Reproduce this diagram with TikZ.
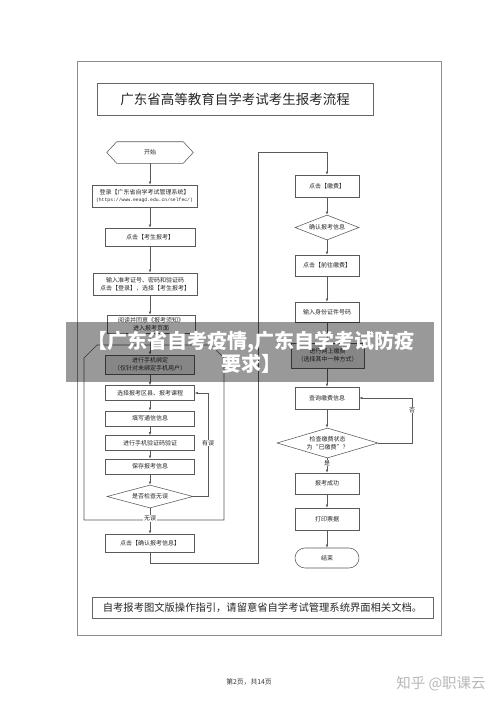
\documentclass[tikz,border=0pt]{standalone}
\usepackage{fontspec}
\setmainfont{Noto Sans CJK SC}
\newfontfamily\monofont{Liberation Mono}
\usetikzlibrary{arrows.meta,shapes.geometric}
\begin{document}
\begin{tikzpicture}[x=1pt,y=-1pt,
  line/.style={draw=black!65, line width=0.55pt},
  arr/.style={line, -{Latex[length=3.2pt,width=2.6pt]}},
  box/.style={draw=black!65, line width=0.55pt, rectangle, inner sep=0pt, align=center, text=black!85, font=\fontsize{6}{8}\selectfont},
  dia/.style={box, diamond},
  lbl/.style={fill=white, inner sep=0.6pt, text=black!85, font=\fontsize{6}{7}\selectfont},
  shaded/.style={fill=black!12}
]
\useasboundingbox (0,0) rectangle (500,706);
\fill[white] (0,0) rectangle (500,706);
% page frame
\draw[black!45, line width=0.6pt] (77,61) rectangle (441,635);
% title
\node[draw=black!60, line width=0.6pt, minimum width=276, minimum height=32, inner sep=0pt, text=black!85, font=\fontsize{13.5}{15}\selectfont] (title) at (235,99) {广东省高等教育自学考试考生报考流程};
% enclosing group shape
\draw[line] (84,358) -- (97,345) -- (211,345) -- (224,358) -- (224,520) -- (84,520) -- cycle;
% left column
\node[box, draw=none, minimum width=86, minimum height=21] (start) at (150,152.5) {开始};
\draw[line] ([xshift=10pt]start.north west) -- ([xshift=-10pt]start.north east) -- (start.east) -- ([xshift=-10pt]start.south east) -- ([xshift=10pt]start.south west) -- (start.west) -- cycle;
\node[box, minimum width=105, minimum height=22] (login) at (144.5,196) {登录【广东省自学考试管理系统】\\[-0.5pt]{\monofont\fontsize{4.75}{6}\selectfont (https://www.eeagd.edu.cn/selfec/)}};
\node[box, minimum width=90, minimum height=18] (click1) at (150,237) {点击【考生报考】};
\node[box, minimum width=104, minimum height=22] (input) at (145,284) {输入准考证号、密码和验证码\\点击【登录】，选择【考生报考】};
\node[box, minimum width=88, minimum height=18] (read) at (151,324) {阅读并同意《报考须知》\\进入报考页面};
\node[box, shaded, minimum width=89, minimum height=19] (bind) at (150,364.5) {进行手机绑定\\（仅针对未绑定手机用户）};
\node[box, minimum width=89, minimum height=15] (select) at (150,393) {选择报考区县、报考课程};
\node[box, minimum width=89, minimum height=15] (fill) at (150,418.5) {填写通信信息};
\node[box, minimum width=89, minimum height=15] (verify) at (150,443) {进行手机验证码验证};
\node[box, minimum width=89, minimum height=15] (save) at (150,466.5) {保存报考信息};
\node[dia, aspect=3.7, minimum width=86, minimum height=23] (check1) at (150,496.5) {是否检查无误};
\node[box, minimum width=89, minimum height=18] (confirm) at (150,543) {点击【确认报考信息】};
% right column
\node[box, minimum width=64, minimum height=22] (pay) at (327,186) {点击【缴费】};
\node[dia, aspect=2.56, minimum width=64, minimum height=25] (check2) at (327,227.5) {确认报考信息};
\node[box, minimum width=64, minimum height=21] (goto) at (327,265.5) {点击【前往缴费】};
\node[box, minimum width=64, minimum height=20] (idnum) at (327,312) {输入身份证件号码};
\node[box, shaded, minimum width=73, minimum height=25] (online) at (327.5,355.5) {进行网上缴费\\（选择其中一种方式）};
\node[box, minimum width=64, minimum height=22] (query) at (327,398) {查询缴费信息};
\node[dia, aspect=3.4, minimum width=101, minimum height=30] (check3) at (327.5,443) {检查缴费状态\\为“已缴费”？};
\node[box, minimum width=64, minimum height=21] (success) at (327,483.5) {报考成功};
\node[box, minimum width=64, minimum height=22] (print) at (327,519) {打印票据};
\node[box, rounded corners=10pt, minimum width=64, minimum height=20] (end) at (327,558) {结束};
% left connectors
\draw[arr] (start) -- (start |- login.north);
\draw[arr] (login.south -| start) -- (click1.north);
\draw[arr] (click1) -- (click1 |- input.north);
\draw[arr] (input.south -| click1) -- (click1 |- read.north);
\draw[arr] (read.south -| click1) -- (bind.north);
\draw[arr] (bind) -- (select);
\draw[arr] (select) -- (fill);
\draw[arr] (fill) -- (verify);
\draw[arr] (verify) -- (save);
\draw[arr] (save) -- (check1);
\draw[arr] (check1.east) -- (208,496.5) -- (208,393) -- (select.east);
\node[lbl] (err) at (208,443) {有误};
\draw[arr] (check1) -- (confirm);
\node[lbl] (ok) at (150,518.5) {无误};
\draw[arr] (confirm.south) -- (150,563) -| (258,152) -| (pay.north);
% right connectors
\draw[arr] (pay) -- (check2);
\draw[arr] (check2) -- (goto);
\draw[arr] (goto) -- (idnum);
\draw[arr] (idnum) -- (idnum |- online.north);
\draw[arr] (online.south -| query) -- (query.north);
\draw[arr] (query) -- (query |- check3.north);
\draw[arr] (check3.south -| success) -- (success.north);
\draw[arr] (check3.east) -- (412,443) -- (412,398) -- (query.east);
\node[lbl] (no) at (412,410) {否};
\node[lbl] (yes) at (327,463) {是};
\draw[arr] (success) -- (print);
\draw[arr] (print) -- (end);
% bottom note
\node[draw=black!60, line width=0.6pt, minimum width=341, minimum height=21, inner sep=0pt, text=black!85, font=\fontsize{10.3}{12}\selectfont] (note) at (262.5,607.5) {自考报考图文版操作指引，请留意省自学考试管理系统界面相关文档。};
% page number and watermark
\node[text=black!80, font=\fontsize{6.8}{8}\selectfont, inner sep=0pt] (pg) at (249,682) {第2页，共14页};
\node[text=black!28, font=\fontsize{14.5}{16}\selectfont, inner sep=0pt] (wm) at (441,684) {知乎 @职课云};
% banner overlay
\fill[black, opacity=0.4] (66,322) rectangle (434,382);
\node[text=white, font=\bfseries\fontsize{20}{23}\selectfont, align=center, inner sep=0pt] (banner) at (251,352) {【广东省自考疫情,广东自学考试防疫\\要求】};
\end{tikzpicture}
\end{document}
